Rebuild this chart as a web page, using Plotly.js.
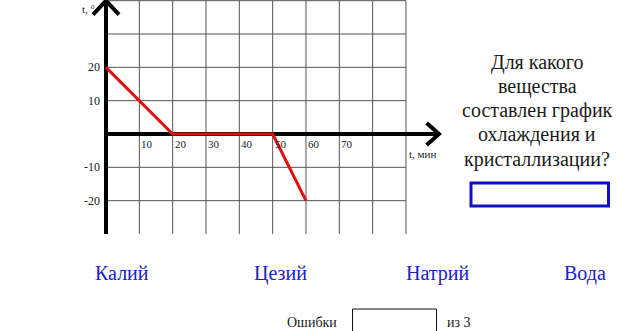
<!DOCTYPE html>
<html>
<head>
<meta charset="utf-8">
<script src="https://cdn.plot.ly/plotly-3.0.1.min.js"></script>
<style>html,body{margin:0;padding:0;background:#fff;overflow:hidden}</style>
</head>
<body>
<div id="chart" style="width:619px;height:331px"></div>
<script>
// Cooling curve: time (min) vs temperature (°C)
const coolTime = [0, 20, 50, 60];
const coolTemp = [20, 0, 0, -20];

// Tick labels along the axes
const timeTicks = [10, 20, 30, 40, 50, 60, 70];
const tempTicks = [20, 10, -10, -20];

// Grid lines of the squared paper
const gridTimes = [10, 20, 30, 40, 50, 60, 70, 80, 90];
const gridTemps = [40, 30, 20, 10, -10, -20];

// Answer choices and texts
const choices = ['Калий', 'Цезий', 'Натрий', 'Вода'];
const questionLines = ['Для какого', 'вещества', 'составлен график', 'охлаждения и', 'кристаллизации?'];

const W = 619, H = 331;
const SERIF = 'Liberation Serif';

// grid extents
const tMin = 0, tMax = 90, yMin = -30, yMax = 40;

const gx = [], gy = [];
gridTimes.forEach(t => { gx.push(t, t, null); gy.push(yMin, yMax, null); });
gridTemps.forEach(v => { gx.push(tMin, tMax, null); gy.push(v, v, null); });

const traces = [
  { x: gx, y: gy, mode: 'lines', line: { color: '#555', width: 1 }, hoverinfo: 'skip' },
  // vertical axis with arrow
  { x: [0, 0, null, -3.9, 0, 3.9], y: [yMin, 40.2, null, 35.8, 40, 35.8], mode: 'lines',
    line: { color: '#000', width: 4 }, hoverinfo: 'skip' },
  // horizontal axis with arrow
  { x: [0, 99.6, null, 96.2, 99.9, 96.2], y: [0, 0, null, 3.3, 0, -3.3], mode: 'lines',
    line: { color: '#000', width: 4 }, hoverinfo: 'skip' },
  // cooling curve
  { x: coolTime, y: coolTemp, mode: 'lines', line: { color: '#e01010', width: 3 }, hoverinfo: 'skip' }
];

const ink = '#1a1a1a';
const annotations = [];
tempTicks.forEach(v => annotations.push({
  x: 0, y: v, xref: 'x', yref: 'y', text: String(v), showarrow: false,
  xanchor: 'right', yanchor: 'middle', xshift: -4,
  font: { family: SERIF, size: 12, color: ink }
}));
timeTicks.forEach(t => annotations.push({
  x: t, y: 0, xref: 'x', yref: 'y', text: String(t), showarrow: false,
  xanchor: 'left', yanchor: 'top', xshift: 0, yshift: -2,
  font: { family: SERIF, size: 11, color: ink }
}));

const px = p => p / W;
const py = p => 1 - p / H;

annotations.push(
  { x: px(80), y: py(9), xref: 'paper', yref: 'paper', text: 't, °', showarrow: false,
    xanchor: 'left', yanchor: 'middle', font: { family: SERIF, size: 11, color: ink } },
  { x: px(407), y: py(154), xref: 'paper', yref: 'paper', text: 't, мин', showarrow: false,
    xanchor: 'left', yanchor: 'middle', font: { family: SERIF, size: 11, color: ink } },
  { x: px(312), y: py(322), xref: 'paper', yref: 'paper', text: 'Ошибки', showarrow: false,
    xanchor: 'center', yanchor: 'middle', font: { family: SERIF, size: 14, color: ink } },
  { x: px(445), y: py(322), xref: 'paper', yref: 'paper', text: 'из 3', showarrow: false,
    xanchor: 'left', yanchor: 'middle', font: { family: SERIF, size: 14, color: ink } }
);

// question, one annotation per line
const qTop = 62, qStep = 24.3;
questionLines.forEach((s, i) => annotations.push({
  x: px(537), y: py(qTop + i * qStep), xref: 'paper', yref: 'paper', text: s, showarrow: false,
  xanchor: 'center', yanchor: 'middle', font: { family: SERIF, size: 20, color: ink }
}));

const choiceCenters = [122, 280, 437, 585];
choices.forEach((c, i) => annotations.push({
  x: px(choiceCenters[i]), y: py(273), xref: 'paper', yref: 'paper', text: c, showarrow: false,
  xanchor: 'center', yanchor: 'middle', font: { family: SERIF, size: 20, color: '#2020c8' }
}));

const shapes = [
  { type: 'rect', xref: 'paper', yref: 'paper', x0: px(471), x1: px(608.5), y0: py(206), y1: py(183),
    line: { color: '#1010c0', width: 3 }, fillcolor: 'rgba(0,0,0,0)' },
  { type: 'rect', xref: 'paper', yref: 'paper', x0: px(352.5), x1: px(436.5), y0: py(345), y1: py(309),
    line: { color: '#111', width: 1 }, fillcolor: 'rgba(0,0,0,0)' }
];

const layout = {
  width: W, height: H,
  margin: { l: 0, r: 0, t: 0, b: 0 },
  paper_bgcolor: '#fff', plot_bgcolor: '#fff',
  font: { family: SERIF },
  showlegend: false,
  xaxis: { range: [-106 / 3.333, (W - 106) / 3.333], visible: false, fixedrange: true },
  yaxis: { range: [(134 - H) / 3.333, 134 / 3.333], visible: false, fixedrange: true },
  annotations: annotations,
  shapes: shapes
};

Plotly.newPlot('chart', traces, layout, { staticPlot: true, displayModeBar: false });
</script>
</body>
</html>
